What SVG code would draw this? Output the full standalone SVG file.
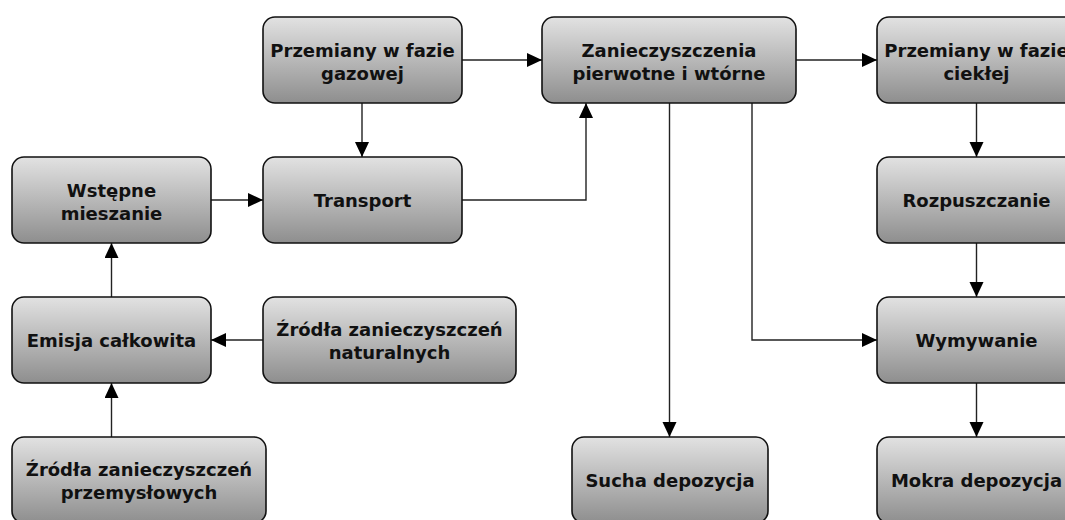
<svg xmlns="http://www.w3.org/2000/svg" width="1065" height="520" viewBox="0 0 1065 520">
<style>
.box{fill:url(#g);stroke:#111;stroke-width:1.6}
.t{font-family:"DejaVu Sans",Verdana,sans-serif;font-weight:bold;font-size:18px;fill:#111;text-anchor:middle}
.c{fill:none;stroke:#222;stroke-width:1.4}
</style>
<defs>
<linearGradient id="g" x1="0" y1="0" x2="0" y2="1">
<stop offset="0" stop-color="#e2e2e2"/>
<stop offset="1" stop-color="#8e8e8e"/>
</linearGradient>
<marker id="a" markerUnits="userSpaceOnUse" markerWidth="16" markerHeight="16" refX="15" refY="7" orient="auto">
<path d="M0,0 L15,7 L0,14 Z" fill="#000"/>
</marker>
</defs>
<rect width="1065" height="520" fill="#fff"/>
<g id="connectors">
<path class="c" marker-end="url(#a)" d="M462,60 H542"/>
<path class="c" marker-end="url(#a)" d="M362,103 V157"/>
<path class="c" marker-end="url(#a)" d="M211,200 H263"/>
<path class="c" marker-end="url(#a)" d="M462,200 H586 V103"/>
<path class="c" marker-end="url(#a)" d="M111.5,297 V243"/>
<path class="c" marker-end="url(#a)" d="M263,340 H211"/>
<path class="c" marker-end="url(#a)" d="M111.5,437 V383"/>
<path class="c" marker-end="url(#a)" d="M796,60 H877"/>
<path class="c" marker-end="url(#a)" d="M669.5,103 V437"/>
<path class="c" marker-end="url(#a)" d="M752,103 V340 H877"/>
<path class="c" marker-end="url(#a)" d="M976.5,103 V157"/>
<path class="c" marker-end="url(#a)" d="M976.5,243 V297"/>
<path class="c" marker-end="url(#a)" d="M976.5,383 V437"/>
</g>
<g id="gazowej"><rect class="box" x="263" y="17" width="199" height="86" rx="12"/><text class="t" x="362.5" y="56.5">Przemiany w fazie</text><text class="t" x="362.5" y="80">gazowej</text></g>
<g id="zanieczyszczenia"><rect class="box" x="542" y="17" width="254" height="86" rx="12"/><text class="t" x="669" y="56.5">Zanieczyszczenia</text><text class="t" x="669" y="80">pierwotne i wtórne</text></g>
<g id="cieklej"><rect class="box" x="877" y="17" width="199" height="86" rx="12"/><text class="t" x="976.5" y="56.5">Przemiany w fazie</text><text class="t" x="976.5" y="80">ciekłej</text></g>
<g id="wstepne"><rect class="box" x="12" y="157" width="199" height="86" rx="12"/><text class="t" x="111.5" y="196.5">Wstępne</text><text class="t" x="111.5" y="220">mieszanie</text></g>
<g id="transport"><rect class="box" x="263" y="157" width="199" height="86" rx="12"/><text class="t" x="362.5" y="206.5">Transport</text></g>
<g id="rozpuszczanie"><rect class="box" x="877" y="157" width="199" height="86" rx="12"/><text class="t" x="976.5" y="206.5">Rozpuszczanie</text></g>
<g id="emisja"><rect class="box" x="12" y="297" width="199" height="86" rx="12"/><text class="t" x="111.5" y="346.5">Emisja całkowita</text></g>
<g id="naturalne"><rect class="box" x="263" y="297" width="253" height="86" rx="12"/><text class="t" x="389.5" y="336">Źródła zanieczyszczeń</text><text class="t" x="389.5" y="359">naturalnych</text></g>
<g id="wymywanie"><rect class="box" x="877" y="297" width="199" height="86" rx="12"/><text class="t" x="976.5" y="346.5">Wymywanie</text></g>
<g id="przemyslowe"><rect class="box" x="12" y="437" width="254" height="86" rx="12"/><text class="t" x="139" y="476">Źródła zanieczyszczeń</text><text class="t" x="139" y="499">przemysłowych</text></g>
<g id="sucha"><rect class="box" x="572" y="437" width="196" height="86" rx="12"/><text class="t" x="670" y="486.5">Sucha depozycja</text></g>
<g id="mokra"><rect class="box" x="877" y="437" width="199" height="86" rx="12"/><text class="t" x="976.5" y="486.5">Mokra depozycja</text></g>
</svg>
